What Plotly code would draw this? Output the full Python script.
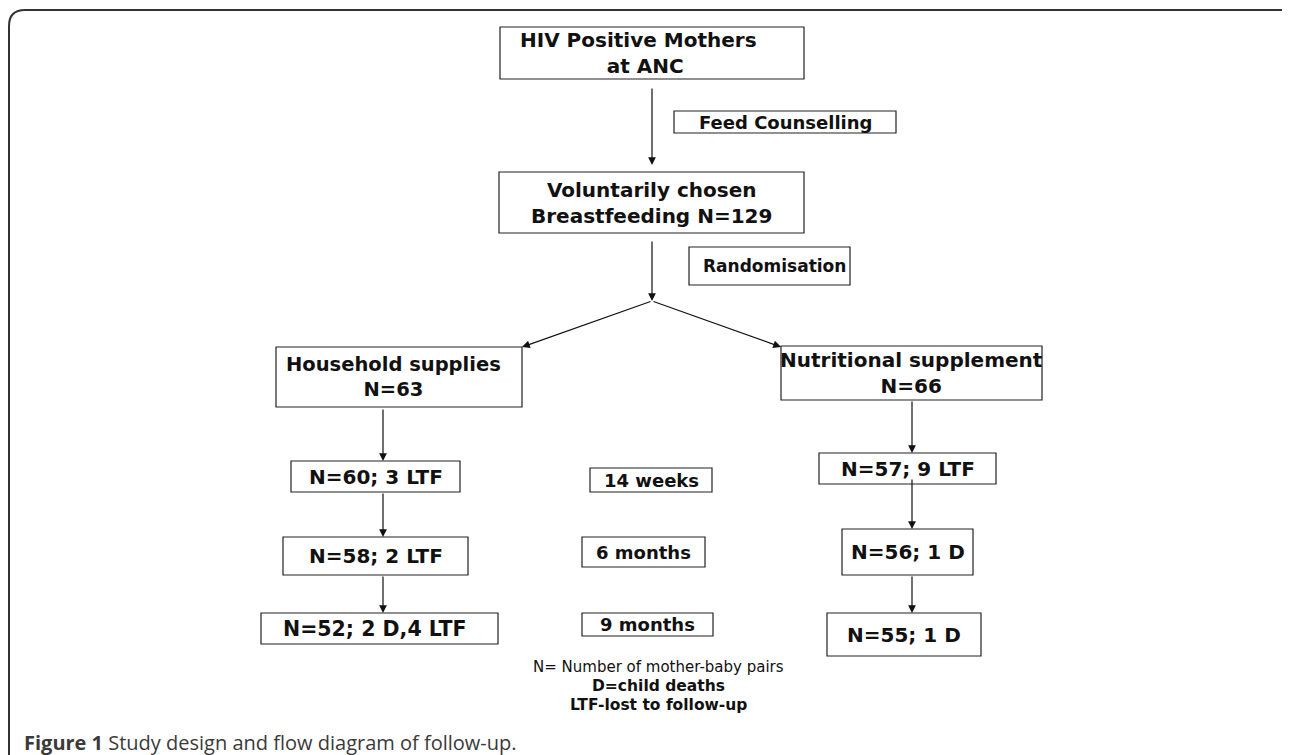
import plotly.graph_objects as go

# ---- content (text) ----
box_labels = [
    "HIV Positive Mothers<br>  at ANC",
    "Feed Counselling",
    "Voluntarily chosen<br>Breastfeeding N=129",
    "Randomisation",
    "Household supplies<br>N=63",
    "Nutritional supplement<br>N=66",
    "N=60; 3 LTF",
    "N=58; 2 LTF",
    "N=52; 2 D,4 LTF",
    "14 weeks",
    "6 months",
    "9 months",
    "N=57; 9 LTF",
    "N=56; 1 D",
    "N=55; 1 D",
]
legend_lines = ["N= Number of mother-baby pairs", "<b>D=child deaths</b>", "<b>LTF-lost to follow-up</b>"]
caption = "<b>Figure 1</b> Study design and flow diagram of follow-up."

# ---- layout geometry (pixel space) ----
box_geom = [  # x0, x1, y0, y1
    (500, 804, 27, 79),
    (674, 896, 111, 133),
    (499, 804, 172, 233),
    (689, 850, 247, 285),
    (276, 522, 347, 407),
    (781, 1042, 346, 400),
    (291, 460, 461, 492),
    (283, 468, 537, 575),
    (261, 498, 613, 644),
    (590, 712, 468, 492),
    (582, 705, 537, 567),
    (582, 713, 613, 636),
    (819, 996, 453, 484),
    (842, 973, 529, 575),
    (827, 981, 613, 656),
]
box_font = [20, 18, 20, 17, 19.5, 20, 20, 20, 20.5, 18, 18, 18, 20, 20, 20]
text_dx = [-14, 0, 0, 5, -6, 0, 0, 0, -5, 0, 0, 0, 0, 0, 0]

arrows = [  # tail (x, y) -> head (x, y)
    ((652, 87), (652, 165)),
    ((652, 240), (652, 301)),
    ((652, 301), (522, 347)),
    ((652, 301), (781, 347)),
    ((383, 408), (383, 461)),
    ((383, 492), (383, 537)),
    ((383, 575), (383, 613)),
    ((912, 400), (912, 453)),
    ((912, 478), (912, 529)),
    ((912, 575), (912, 613)),
]

legend_y = [667, 686, 705]
legend_font = [15, 15.5, 15.5]

FONT = "DejaVu Sans"
W, H = 1290, 755
OFF = 8  # page body margin

fig = go.Figure()
fig.add_trace(go.Scatter(x=[OFF, W], y=[OFF, H], mode="markers", marker=dict(opacity=0), hoverinfo="skip", showlegend=False))

shapes = []
annotations = []

# outer rounded frame
shapes.append(dict(type="path", xref="x", yref="y",
                   path="M 9,790 L 9,26 Q 9,10 25,10 L 1284,10 Q 1292,10 1296,16",
                   line=dict(color="#333333", width=2)))

for lab, (x0, x1, y0, y1), fs, dx in zip(box_labels, box_geom, box_font, text_dx):
    shapes.append(dict(type="rect", xref="x", yref="y", x0=x0, x1=x1, y0=y0, y1=y1,
                       line=dict(color="#222222", width=1.2), fillcolor="rgba(0,0,0,0)", layer="below"))
    annotations.append(dict(x=(x0 + x1) / 2 + dx, y=(y0 + y1) / 2, xref="x", yref="y", text="<b>" + lab + "</b>",
                            showarrow=False, font=dict(family=FONT, size=fs, color="#111111"),
                            xanchor="center", yanchor="middle", align="center"))

for (tx, ty), (hx, hy) in arrows:
    annotations.append(dict(x=hx, y=hy, ax=tx, ay=ty, xref="x", yref="y", axref="x", ayref="y",
                            text="", showarrow=True, arrowhead=2, arrowsize=1.3, arrowwidth=1.2,
                            arrowcolor="#111111", standoff=0))

for t, yy, fs in zip(legend_lines, legend_y, legend_font):
    annotations.append(dict(x=658, y=yy, xref="x", yref="y", text=t, showarrow=False,
                            font=dict(family=FONT, size=fs, color="#111111"), xanchor="center", yanchor="middle"))

annotations.append(dict(x=22, y=742, xref="x", yref="y", text=caption, showarrow=False,
                        font=dict(family="Open Sans", size=20, color="#3a3a3a"), xanchor="left", yanchor="middle"))

fig.update_layout(
    width=W, height=H, margin=dict(l=0, r=0, t=0, b=0),
    paper_bgcolor="white", plot_bgcolor="white",
    xaxis=dict(range=[OFF, W + OFF], visible=False, fixedrange=True),
    yaxis=dict(range=[H + OFF, OFF], visible=False, fixedrange=True),
    shapes=shapes, annotations=annotations, showlegend=False,
)

fig.write_html("out.html")
